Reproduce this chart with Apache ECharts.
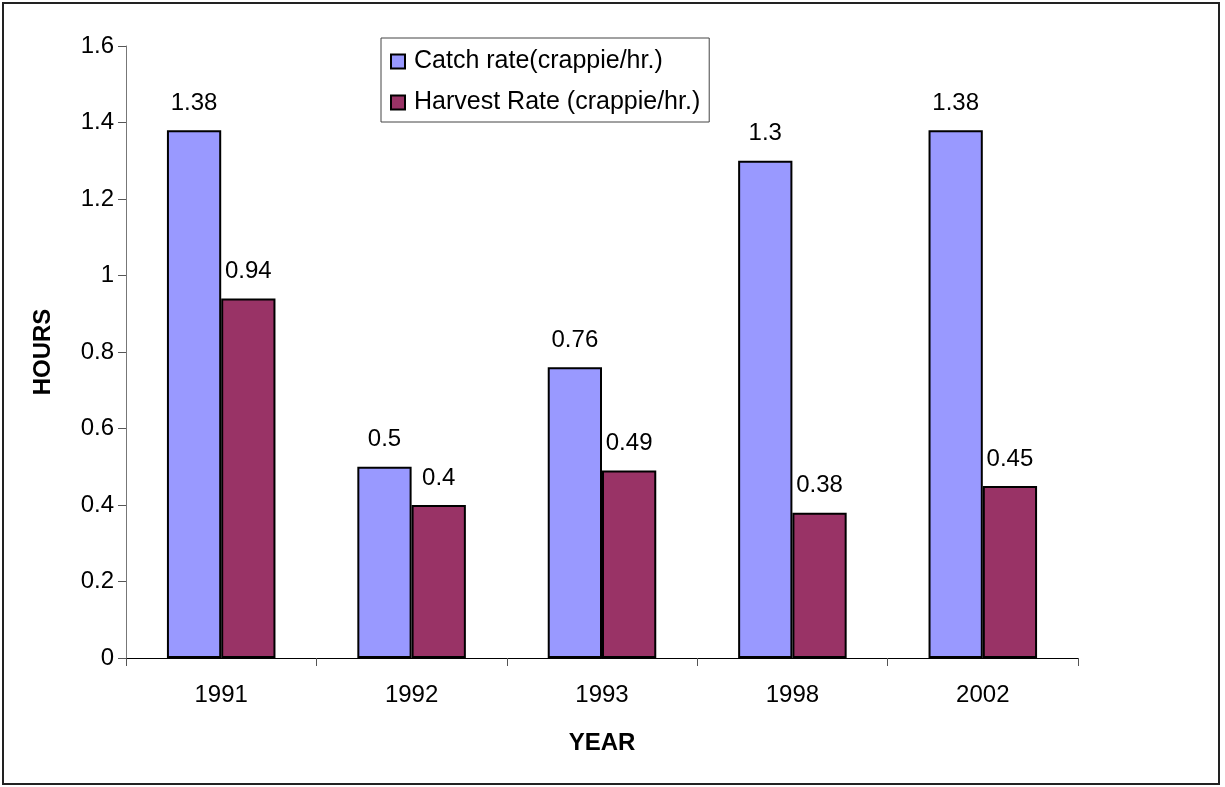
<!DOCTYPE html>
<html>
<head>
<meta charset="utf-8">
<style>
  html, body { margin: 0; padding: 0; background: #fff; }
  #frame { position: absolute; left: 2px; top: 2px; width: 1218px; height: 783px; border: 2px solid #222; box-sizing: border-box; }
  #chart { position: absolute; left: 0; top: 0; width: 1225px; height: 787px; }
</style>
<script src="https://cdn.jsdelivr.net/npm/echarts@6/dist/echarts.min.js"></script>
</head>
<body>
<div id="frame"></div>
<div id="chart"></div>
<script>
// Crappie fishing rates by survey year
const years = ['1991', '1992', '1993', '1998', '2002'];
const catchRate = [1.38, 0.5, 0.76, 1.3, 1.38];
const harvestRate = [0.94, 0.4, 0.49, 0.38, 0.45];
const yTicks = [0, 0.2, 0.4, 0.6, 0.8, 1, 1.2, 1.4, 1.6];

const FONT = 'Liberation Sans, Arial, sans-serif';

const chart = echarts.init(document.getElementById('chart'), null, { renderer: 'canvas' });

const labelStyle = {
  show: true,
  position: 'top',
  distance: 15,
  color: '#000',
  fontFamily: FONT,
  fontSize: 24
};

chart.setOption({
  animation: false,
  backgroundColor: 'transparent',
  grid: { left: 126, top: 46, right: 147, bottom: 129, containLabel: false },
  legend: {
    left: 381,
    top: 38,
    orient: 'vertical',
    padding: [11, 9, 7, 9],
    itemGap: 16,
    itemWidth: 14,
    itemHeight: 14,
    icon: 'rect',
    borderColor: '#444',
    borderWidth: 1,
    backgroundColor: '#fff',
    textStyle: { fontFamily: FONT, fontSize: 25, color: '#000', padding: [0, 0, 0, 4] },
    data: ['Catch rate(crappie/hr.)', 'Harvest Rate (crappie/hr.)']
  },
  xAxis: {
    type: 'category',
    data: years,
    name: 'YEAR',
    nameLocation: 'middle',
    nameGap: 73,
    nameTextStyle: { fontFamily: FONT, fontSize: 24, fontWeight: 'bold', color: '#000' },
    axisLine: { lineStyle: { color: '#000', width: 1 } },
    axisTick: { show: true, length: 8, lineStyle: { color: '#555' } },
    axisLabel: { fontFamily: FONT, fontSize: 24, color: '#000', margin: 25 }
  },
  yAxis: {
    type: 'value',
    min: yTicks[0],
    max: yTicks[yTicks.length - 1],
    interval: 0.2,
    name: 'HOURS',
    nameLocation: 'middle',
    nameGap: 71,
    nameRotate: 90,
    nameTextStyle: { fontFamily: FONT, fontSize: 24, fontWeight: 'bold', color: '#000' },
    axisLine: { show: true, lineStyle: { color: '#777', width: 1 } },
    axisTick: { show: true, length: 8, lineStyle: { color: '#555' } },
    splitLine: { show: false },
    axisLabel: {
      fontFamily: FONT, fontSize: 24, color: '#000', margin: 12,
      formatter: v => String(Math.round(v * 10) / 10)
    }
  },
  series: [
    {
      name: 'Catch rate(crappie/hr.)',
      type: 'bar',
      data: catchRate,
      barGap: '0%',
      barCategoryGap: '43%',
      itemStyle: { color: '#9999FF', borderColor: '#000', borderWidth: 2 },
      label: labelStyle
    },
    {
      name: 'Harvest Rate (crappie/hr.)',
      type: 'bar',
      data: harvestRate,
      barGap: '0%',
      barCategoryGap: '43%',
      itemStyle: { color: '#993366', borderColor: '#000', borderWidth: 2 },
      label: labelStyle
    }
  ]
});
</script>
</body>
</html>
